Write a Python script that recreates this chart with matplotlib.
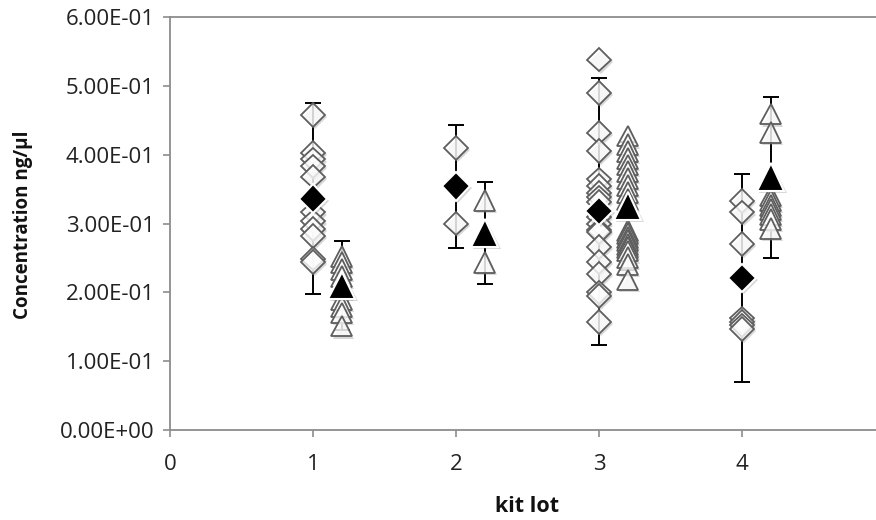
import matplotlib
matplotlib.use("Agg")
import matplotlib.pyplot as plt
import matplotlib.patheffects as pe
import numpy as np

plt.rcParams['font.family'] = ['Open Sans', 'DejaVu Sans']

# ---- data ----
lots = [1, 2, 3, 4]
tri_offset = 0.2

diamond_points = [
    [0.458, 0.403, 0.393, 0.383, 0.368, 0.316, 0.303, 0.292, 0.282, 0.249, 0.244],
    [0.410, 0.355, 0.300],
    [0.538, 0.490, 0.432, 0.405, 0.364, 0.355, 0.345, 0.338, 0.331, 0.310,
     0.300, 0.290, 0.288, 0.266, 0.244, 0.227, 0.200, 0.195, 0.157],
    [0.333, 0.316, 0.270, 0.162, 0.157, 0.152, 0.147],
]
triangle_points = [
    [0.252, 0.243, 0.233, 0.223, 0.205, 0.190, 0.179, 0.170, 0.151],
    [0.333, 0.285, 0.243],
    [0.427, 0.415, 0.405, 0.395, 0.385, 0.375, 0.365, 0.355, 0.345, 0.335,
     0.290, 0.285, 0.280, 0.275, 0.270, 0.265, 0.260, 0.250, 0.240, 0.218],
    [0.459, 0.432, 0.340, 0.333, 0.326, 0.320, 0.313, 0.306, 0.293],
]
diamond_mean = [0.336, 0.354, 0.318, 0.221]
diamond_err = [0.139, 0.089, 0.194, 0.151]
triangle_mean = [0.210, 0.286, 0.325, 0.367]
triangle_err = [0.065, 0.074, 0.093, 0.117]

y_ticks = [0.0, 0.1, 0.2, 0.3, 0.4, 0.5, 0.6]
y_tick_labels = ["0.00E+00", "1.00E-01", "2.00E-01", "3.00E-01",
                 "4.00E-01", "5.00E-01", "6.00E-01"]
x_ticks = [0, 1, 2, 3, 4]

# ---- figure ----
W, H = 876, 520
fig = plt.figure(figsize=(W / 100, H / 100), dpi=100)
left_px, right_px, top_px, bottom_px = 170, 170 + 5 * 143, 17, 430
ax = fig.add_axes([left_px / W, 1 - bottom_px / H,
                   (right_px - left_px) / W, (bottom_px - top_px) / H])
ax.set_xlim(0, 5)
ax.set_ylim(0, 0.6)

shadow = [pe.SimplePatchShadow(offset=(1.5, -1.5), shadow_rgbFace='0.5', alpha=0.3),
          pe.Normal()]

open_face = (1, 1, 1, 0.8)
edge_gray = '#5e5e5e'

# error bars (behind open markers)
ax.errorbar(np.array(lots), diamond_mean, yerr=diamond_err, fmt='none',
            ecolor='black', elinewidth=1.4, capsize=6, capthick=1.4, zorder=1)
ax.errorbar(np.array(lots) + tri_offset, triangle_mean, yerr=triangle_err, fmt='none',
            ecolor='black', elinewidth=1.4, capsize=6, capthick=1.4, zorder=1)

# individual points
for lot, pts in zip(lots, diamond_points):
    ax.plot(np.full(len(pts), lot), pts, linestyle='none', marker='D', ms=12,
            mfc=open_face, mec=edge_gray, mew=1.3, zorder=2, path_effects=shadow)
for lot, pts in zip(lots, triangle_points):
    ax.plot(np.full(len(pts), lot + tri_offset), pts, linestyle='none', marker='^', ms=15,
            mfc=open_face, mec=edge_gray, mew=1.3, zorder=2, path_effects=shadow)

# means
ax.plot(lots, diamond_mean, linestyle='none', marker='D', ms=14.5, mfc='black',
        mec='white', mew=1.5, zorder=4, path_effects=shadow)
ax.plot(np.array(lots) + tri_offset, triangle_mean, linestyle='none', marker='^', ms=20,
        mfc='black', mec='white', mew=1.5, zorder=4, path_effects=shadow)

# axes styling
ax.spines['right'].set_visible(False)
for s in ['left', 'bottom', 'top']:
    ax.spines[s].set_color('#8c8c8c')
    ax.spines[s].set_linewidth(1.3)
ax.set_yticks(y_ticks)
ax.set_yticklabels(y_tick_labels)
ax.set_xticks(x_ticks)
ax.tick_params(axis='both', direction='out', length=5, width=1.2, color='#8c8c8c',
               labelsize=16, labelcolor='#222222')
ax.tick_params(axis='y', pad=6)
ax.tick_params(axis='x', pad=12)
xl = ax.set_xlabel('kit lot', fontsize=15.5, fontweight='bold', color='#111111')
yl = ax.set_ylabel('Concentration ng/µl', fontsize=13.5, fontweight='bold', color='#111111')
xl.set_verticalalignment('center')
yl.set_horizontalalignment('center')
yl.set_verticalalignment('center')
ax.yaxis.set_label_coords(-(170 - 23) / (right_px - left_px), (430 - 225) / 413)
ax.xaxis.set_label_coords((527 - 170) / (right_px - left_px), -(507 - 430) / 413)

fig.savefig('out.png', dpi=100)
